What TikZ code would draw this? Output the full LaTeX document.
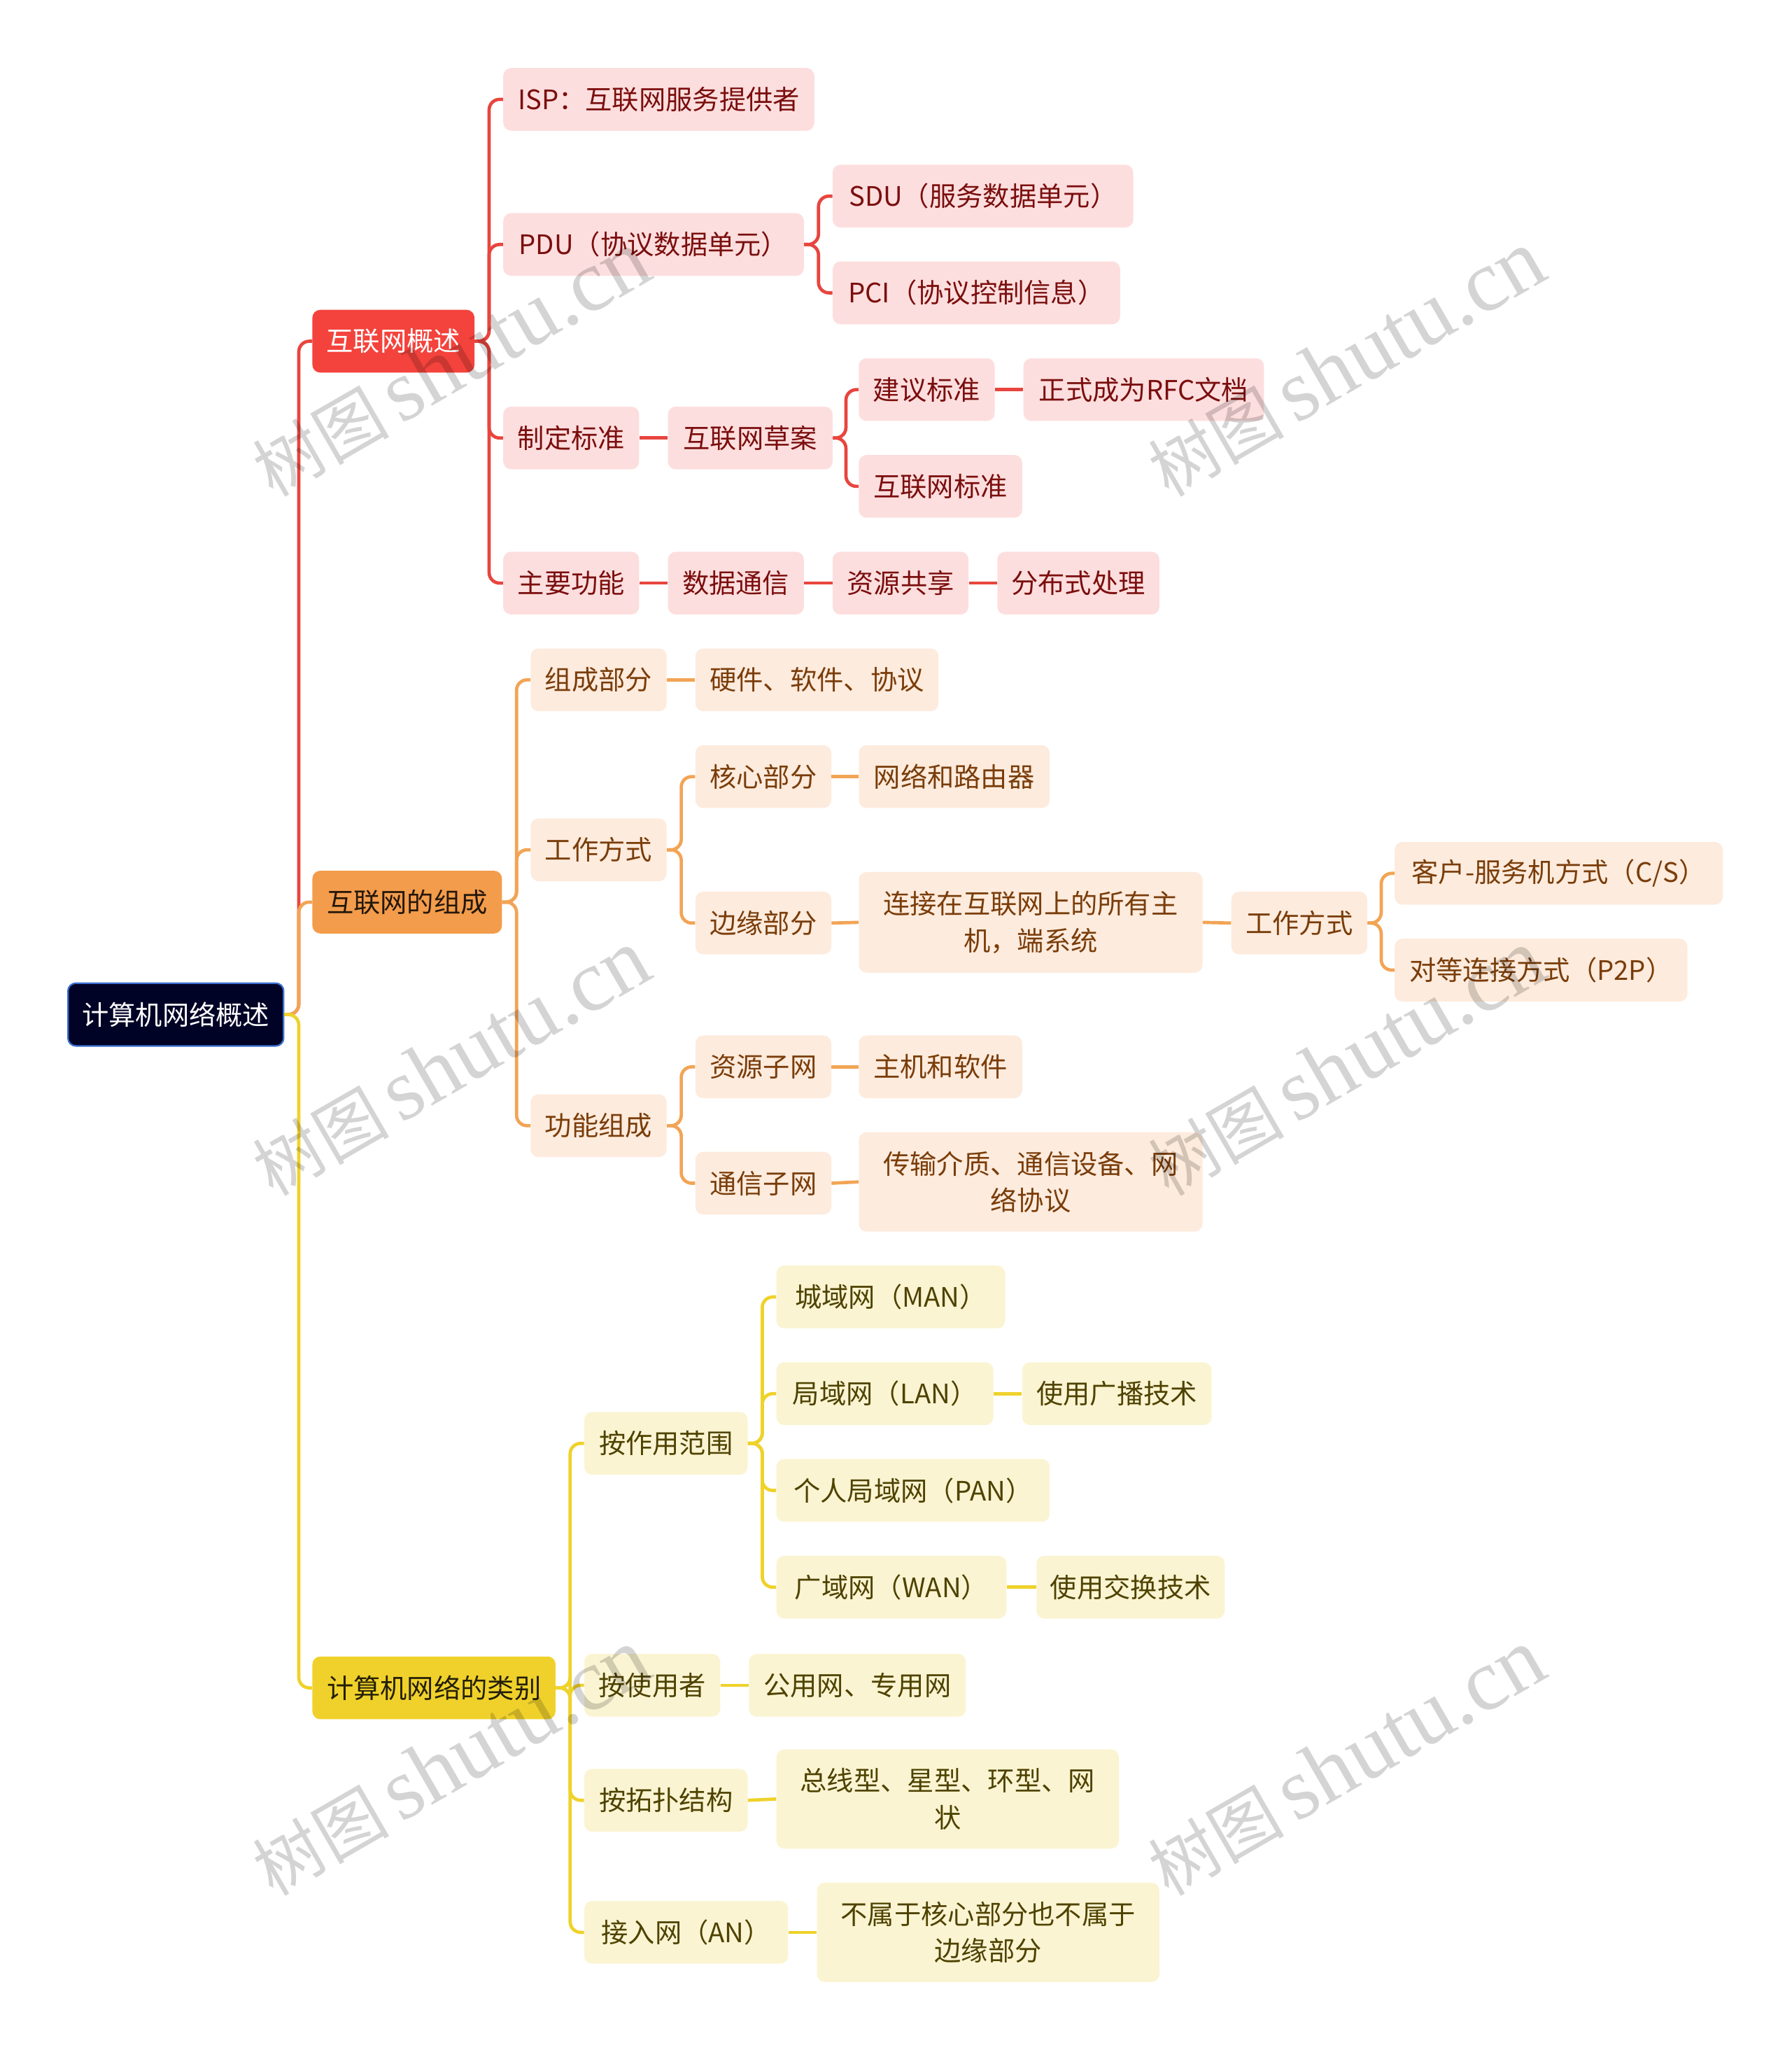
\documentclass[tikz,border=0pt]{standalone}
\usepackage{fontspec}
\setmainfont{Noto Sans CJK SC}
\newfontfamily\wmlatin{Liberation Serif}
\newfontfamily\wmcjk{Noto Sans CJK SC}
\definecolor{rootfill}{HTML}{000226}
\definecolor{rootborder}{HTML}{3A6FD0}
\definecolor{redA}{HTML}{F4433C}
\definecolor{redB}{HTML}{FDDEDE}
\definecolor{redT}{HTML}{7B0E0E}
\definecolor{redL}{HTML}{E8453E}
\definecolor{orgA}{HTML}{F39C4B}
\definecolor{orgB}{HTML}{FDEBDD}
\definecolor{orgT}{HTML}{7A3D0A}
\definecolor{orgL}{HTML}{F2A455}
\definecolor{yelA}{HTML}{F0D12B}
\definecolor{yelB}{HTML}{FBF4D2}
\definecolor{yelT}{HTML}{4E4200}
\definecolor{yelL}{HTML}{EFD22A}
\tikzset{
  box/.style={rounded corners=6pt, inner sep=0pt, align=center,
    font=\fontsize{20.5}{28}\selectfont},
  rootbox/.style={box, fill=rootfill, draw=rootborder, line width=1.2pt, text=white},
  rA/.style={box, fill=redA, text=white},
  rB/.style={box, fill=redB, text=redT},
  oA/.style={box, fill=orgA, text=black!85!orgA},
  oB/.style={box, fill=orgB, text=orgT},
  yA/.style={box, fill=yelA, text=black!85!yelA},
  yB/.style={box, fill=yelB, text=yelT},
  rl/.style={draw=redL, line width=2.5pt, rounded corners=8pt},
  ol/.style={draw=orgL, line width=2.5pt, rounded corners=8pt},
  yl/.style={draw=yelL, line width=2.5pt, rounded corners=8pt},
  wm/.style={inner sep=0pt, text=black, text opacity=0.17, rotate=30}
}
\newcommand\bx[7]{\node[#1, minimum width={#4pt-#3pt}, minimum height={#6pt-#5pt}] (#2) at ({(#3+#4)/2},{(#5+#6)/2}) {#7};}
\begin{document}
\begin{tikzpicture}[x=1pt,y=-1pt]
\useasboundingbox (0,0) rectangle (1370.5,1568);
% root and level 1
\bx{rootbox}{root}{52}{217}{752}{800}{计算机网络概述}
\bx{rA}{a}{239}{363}{237}{285}{互联网概述}
\bx{oA}{b}{239}{384}{666}{714}{互联网的组成}
\bx{yA}{c}{239}{425}{1267}{1315}{计算机网络的类别}
% red branch
\bx{rB}{a1}{385}{623}{52}{100}{ISP：互联网服务提供者}
\bx{rB}{a2}{385}{615}{163}{211}{PDU（协议数据单元）}
\bx{rB}{a3}{385}{489}{311}{359}{制定标准}
\bx{rB}{a4}{385}{489}{422}{470}{主要功能}
\bx{rB}{a21}{637}{867}{126}{174}{SDU（服务数据单元）}
\bx{rB}{a22}{637}{857}{200}{248}{PCI（协议控制信息）}
\bx{rB}{a31}{511}{637}{311}{359}{互联网草案}
\bx{rB}{a311}{657}{761}{274}{322}{建议标准}
\bx{rB}{a3111}{783}{967}{274}{322}{正式成为RFC文档}
\bx{rB}{a312}{657}{782}{348}{396}{互联网标准}
\bx{rB}{a41}{511}{615}{422}{470}{数据通信}
\bx{rB}{a42}{637}{741}{422}{470}{资源共享}
\bx{rB}{a43}{763}{887}{422}{470}{分布式处理}
% orange branch
\bx{oB}{b1}{406}{510}{496}{544}{组成部分}
\bx{oB}{b11}{532}{718}{496}{544}{硬件、软件、协议}
\bx{oB}{b2}{406}{510}{626}{674}{工作方式}
\bx{oB}{b21}{532}{636}{570}{618}{核心部分}
\bx{oB}{b211}{657}{803}{570}{618}{网络和路由器}
\bx{oB}{b22}{532}{636}{682}{730}{边缘部分}
\bx{oB}{b221}{657}{920}{667}{744}{连接在互联网上的所有主\\机，端系统}
\bx{oB}{b222}{942}{1046}{682}{730}{工作方式}
\bx{oB}{b2221}{1067}{1318}{644}{692}{客户-服务机方式（C/S）}
\bx{oB}{b2222}{1067}{1291}{718}{766}{对等连接方式（P2P）}
\bx{oB}{b3}{406}{510}{837}{885}{功能组成}
\bx{oB}{b31}{532}{636}{792}{840}{资源子网}
\bx{oB}{b311}{657}{782}{792}{840}{主机和软件}
\bx{oB}{b32}{532}{636}{881}{929}{通信子网}
\bx{oB}{b321}{657}{920}{866}{942}{传输介质、通信设备、网\\络协议}
% yellow branch
\bx{yB}{c1}{447}{572}{1080}{1128}{按作用范围}
\bx{yB}{c11}{594}{769}{968}{1016}{城域网（MAN）}
\bx{yB}{c12}{594}{760}{1042}{1090}{局域网（LAN）}
\bx{yB}{c121}{782}{927}{1042}{1090}{使用广播技术}
\bx{yB}{c13}{594}{803}{1116}{1164}{个人局域网（PAN）}
\bx{yB}{c14}{594}{770}{1190}{1238}{广域网（WAN）}
\bx{yB}{c141}{793}{937}{1190}{1238}{使用交换技术}
\bx{yB}{c2}{447}{551}{1265}{1313}{按使用者}
\bx{yB}{c21}{573}{739}{1265}{1313}{公用网、专用网}
\bx{yB}{c3}{447}{572}{1353}{1401}{按拓扑结构}
\bx{yB}{c31}{594}{856}{1338}{1414}{总线型、星型、环型、网\\状}
\bx{yB}{c4}{447}{603}{1454}{1502}{接入网（AN）}
\bx{yB}{c41}{625}{887}{1440}{1516}{不属于核心部分也不属于\\边缘部分}
% connectors
\draw[rl] (root.east) -- ++(11,0) |- (a.west);
\draw[ol] (root.east) -- ++(11,0) |- (b.west);
\draw[yl] (root.east) -- ++(11,0) |- (c.west);
\foreach \k in {a1,a2,a3,a4} \draw[rl] (a.east) -- ++(11,0) |- (\k.west);
\foreach \k in {a21,a22} \draw[rl] (a2.east) -- ++(11,0) |- (\k.west);
\draw[rl] (a3.east) -- (a31.west);
\foreach \k in {a311,a312} \draw[rl] (a31.east) -- ++(10,0) |- (\k.west);
\draw[rl] (a311.east) -- (a3111.west);
\draw[rl] (a4.east) -- (a41.west);
\draw[rl] (a41.east) -- (a42.west);
\draw[rl] (a42.east) -- (a43.west);
\foreach \k in {b1,b2,b3} \draw[ol] (b.east) -- ++(11,0) |- (\k.west);
\draw[ol] (b1.east) -- (b11.west);
\foreach \k in {b21,b22} \draw[ol] (b2.east) -- ++(11,0) |- (\k.west);
\draw[ol] (b21.east) -- (b211.west);
\draw[ol] (b22.east) -- (b221.west);
\draw[ol] (b221.east) -- (b222.west);
\foreach \k in {b2221,b2222} \draw[ol] (b222.east) -- ++(10.5,0) |- (\k.west);
\foreach \k in {b31,b32} \draw[ol] (b3.east) -- ++(11,0) |- (\k.west);
\draw[ol] (b31.east) -- (b311.west);
\draw[ol] (b32.east) -- (b321.west);
\foreach \k in {c1,c2,c3,c4} \draw[yl] (c.east) -- ++(11,0) |- (\k.west);
\foreach \k in {c11,c12,c13,c14} \draw[yl] (c1.east) -- ++(11,0) |- (\k.west);
\draw[yl] (c12.east) -- (c121.west);
\draw[yl] (c14.east) -- (c141.west);
\draw[yl] (c2.east) -- (c21.west);
\draw[yl] (c3.east) -- (c31.west);
\draw[yl] (c4.east) -- (c41.west);
% watermarks
\foreach \wx/\wy [count=\i] in {345/278, 1030/278, 345/813, 1030/813, 345/1348, 1030/1348}
  \node[wm] (wm\i) at (\wx,\wy) {\fontsize{52}{52}\wmcjk 树图\,\wmlatin\fontsize{67}{67}\selectfont shutu.cn};
\end{tikzpicture}
\end{document}
